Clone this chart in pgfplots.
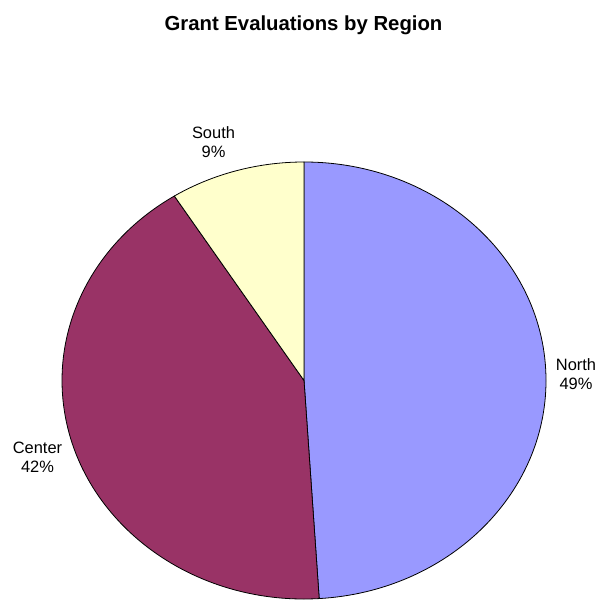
\documentclass[border=0pt]{standalone}
\usepackage{pgfplots}
\pgfplotsset{compat=1.18}
\usepackage{fontspec}
\setmainfont{Liberation Sans}
\definecolor{northc}{HTML}{9999FF}
\definecolor{centerc}{HTML}{993366}
\definecolor{southc}{HTML}{FFFFCC}
% data (percent)
\def\vNorth{49}
\def\vCenter{42}
\def\vSouth{9}
\begin{document}
\begin{tikzpicture}
\begin{axis}[hide axis, scale only axis, width=598bp, height=600bp,
  xmin=0, xmax=598, ymin=0, ymax=600, y dir=reverse, clip=false]
\def\cx{304}\def\cy{380.5}
\pgfmathsetmacro\aA{90}
\pgfmathsetmacro\aB{90-3.6*\vNorth}
\pgfmathsetmacro\aC{\aB-3.6*\vCenter}
\pgfmathsetmacro\aD{\aC-3.6*\vSouth}
\filldraw[fill=northc, draw=black, line width=0.8pt] (axis cs:\cx,\cy) -- ++(\aA:242bp and 218.5bp) arc[start angle=\aA, end angle=\aB, x radius=242bp, y radius=218.5bp] -- cycle;
\filldraw[fill=centerc, draw=black, line width=0.8pt] (axis cs:\cx,\cy) -- ++(\aB:242bp and 218.5bp) arc[start angle=\aB, end angle=\aC, x radius=242bp, y radius=218.5bp] -- cycle;
\filldraw[fill=southc, draw=black, line width=0.8pt] (axis cs:\cx,\cy) -- ++(\aC:242bp and 218.5bp) arc[start angle=\aC, end angle=\aD, x radius=242bp, y radius=218.5bp] -- cycle;
\node[font=\fontsize{20.4}{24}\selectfont\bfseries, anchor=base, inner sep=0pt] at (axis cs:303.5,30.5) {Grant Evaluations by Region};
\node[font=\fontsize{16.5}{19}\selectfont, align=center, inner sep=0pt] at (axis cs:576,374.5) {North\\49\%};
\node[font=\fontsize{16.5}{19}\selectfont, align=center, inner sep=0pt] at (axis cs:37.5,457) {Center\\42\%};
\node[font=\fontsize{16.5}{19}\selectfont, align=center, inner sep=0pt] at (axis cs:213.5,142) {South\\9\%};
\end{axis}
\pgfresetboundingbox
\path (current axis.south west) rectangle (current axis.north east);
\end{tikzpicture}
\end{document}
